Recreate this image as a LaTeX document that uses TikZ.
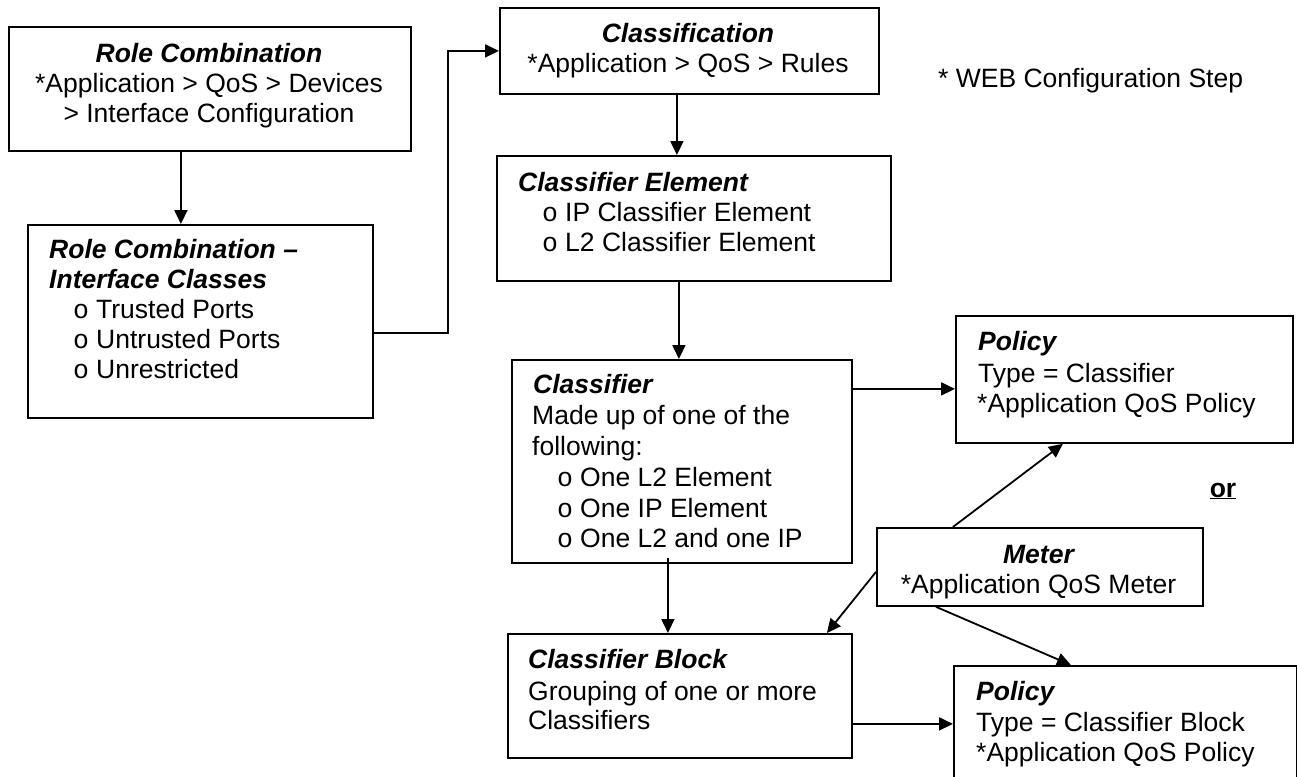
\documentclass[tikz,border=0pt]{standalone}
\usepackage{fontspec}
\setmainfont{Liberation Sans}
\newfontfamily\bulletfont{Liberation Mono}
\usetikzlibrary{arrows.meta}
\tikzset{
  box/.style={draw, line width=1.8pt, rectangle, inner sep=0pt, anchor=north west},
  txt/.style={inner sep=0pt, anchor=base west, font=\fontsize{26.5}{30}\selectfont},
  ctxt/.style={txt, anchor=base},
  hd/.style={txt, font=\fontsize{26.5}{30}\selectfont\bfseries\itshape},
  chd/.style={hd, anchor=base},
  bul/.style={txt, font=\fontsize{26.5}{30}\selectfont\bulletfont},
  ln/.style={line width=1.8pt},
  arr/.style={line width=1.8pt, -{Triangle[length=14pt,width=13pt]}}
}
\begin{document}
\begin{tikzpicture}[x=1pt,y=-1pt]
\useasboundingbox (0,0) rectangle (1297,776);
\clip (0,0) rectangle (1297,776);
% boxes
\node[box, minimum width=402pt, minimum height=124pt] (b1) at (8,26) {};
\node[box, minimum width=345pt, minimum height=193pt] (b2) at (27,224) {};
\node[box, minimum width=379pt, minimum height=86pt] (b3) at (499,7) {};
\node[box, minimum width=394pt, minimum height=125pt] (b4) at (496,155) {};
\node[box, minimum width=340pt, minimum height=203pt] (b5) at (511,359) {};
\node[box, minimum width=337pt, minimum height=127pt] (b6) at (955,315) {};
\node[box, minimum width=326pt, minimum height=78pt] (b7) at (876,527) {};
\node[box, minimum width=344pt, minimum height=124pt] (b8) at (507,633) {};
\node[box, minimum width=343pt, minimum height=135pt] (b9) at (953,665) {};

% texts box 1
\node[chd] (t1a) at (209,63) {Role Combination};
\node[ctxt] (t1b) at (209,92) {*Application > QoS > Devices};
\node[ctxt] (t1c) at (209,122) {> Interface Configuration};
% box 2
\node[hd] (t2a) at (49,258) {Role Combination –};
\node[hd] (t2b) at (49,288) {Interface Classes};
\node[bul] (o2a) at (73,318) {o};
\node[txt] (t2c) at (96,318) {Trusted Ports};
\node[bul] (o2b) at (73,348) {o};
\node[txt] (t2d) at (96,348) {Untrusted Ports};
\node[bul] (o2c) at (73,378) {o};
\node[txt] (t2e) at (96,378) {Unrestricted};
% box 3
\node[chd] (t3a) at (688,42) {Classification};
\node[ctxt] (t3b) at (688,72) {*Application > QoS > Rules};
% box 4
\node[hd] (t4a) at (518,191) {Classifier Element};
\node[bul] (o4a) at (542,221) {o};
\node[txt] (t4b) at (565,221) {IP Classifier Element};
\node[bul] (o4b) at (542,251) {o};
\node[txt] (t4c) at (565,251) {L2 Classifier Element};
% box 5
\node[hd] (t5a) at (533,393) {Classifier};
\node[txt] (t5b) at (532,424) {Made up of one of the};
\node[txt] (t5c) at (532,455) {following:};
\node[bul] (o5a) at (557,486) {o};
\node[txt] (t5d) at (580,486) {One L2 Element};
\node[bul] (o5b) at (557,517) {o};
\node[txt] (t5e) at (580,517) {One IP Element};
\node[bul] (o5c) at (557,547) {o};
\node[txt] (t5f) at (580,547) {One L2 and one IP};
% box 6
\node[hd] (t6a) at (978,350) {Policy};
\node[txt] (t6b) at (978,382) {Type = Classifier};
\node[txt] (t6c) at (977,412) {*Application QoS Policy};
% box 7
\node[chd] (t7a) at (1038.5,563) {Meter};
\node[ctxt] (t7b) at (1038.5,593) {*Application QoS Meter};
% box 8
\node[hd] (t8a) at (528,668) {Classifier Block};
\node[txt] (t8b) at (528,700) {Grouping of one or more};
\node[txt] (t8c) at (528,729) {Classifiers};
% box 9
\node[hd] (t9a) at (976,700) {Policy};
\node[txt] (t9b) at (976,731) {Type = Classifier Block};
\node[txt] (t9c) at (976,761) {*Application QoS Policy};
% free texts
\node[ctxt, font=\fontsize{26.5}{30}\selectfont\bfseries] (or) at (1223,497) {\underline{or}};
\node[txt] (web) at (938,87) {* WEB Configuration Step};

% connectors
\draw[arr] ([xshift=-29pt]b1.south) -- ([xshift=-29pt]b1.south |- b2.north);
\coordinate (k1) at (448,333);
\draw[arr] (b2.east |- k1) -- (k1) |- (b3.west);
\draw[arr] ([xshift=-12.5pt]b3.south) -- ([xshift=-12.5pt]b3.south |- b4.north);
\draw[arr] ([xshift=-15pt]b4.south) -- ([xshift=-15pt]b4.south |- b5.north);
\coordinate (c5) at ([yshift=-9.5pt]b6.west);
\draw[arr] (b5.east |- c5) -- (c5);
\draw[arr] ([xshift=-14pt,yshift=6pt]b5.south) -- ([xshift=-14pt]b5.south |- b8.north);
\coordinate (c8) at ([yshift=-28pt]b8.east);
\draw[arr] (c8) -- (c8 -| b9.west);
\draw[arr] ([xshift=-87pt]b7.north) -- ([xshift=-61.5pt]b6.south);
\draw[arr] ([yshift=-5pt]b7.west) -- ([xshift=147pt]b8.north);
\draw[arr] ([xshift=-104pt]b7.south) -- ([xshift=-54.5pt]b9.north);
\end{tikzpicture}
\end{document}
